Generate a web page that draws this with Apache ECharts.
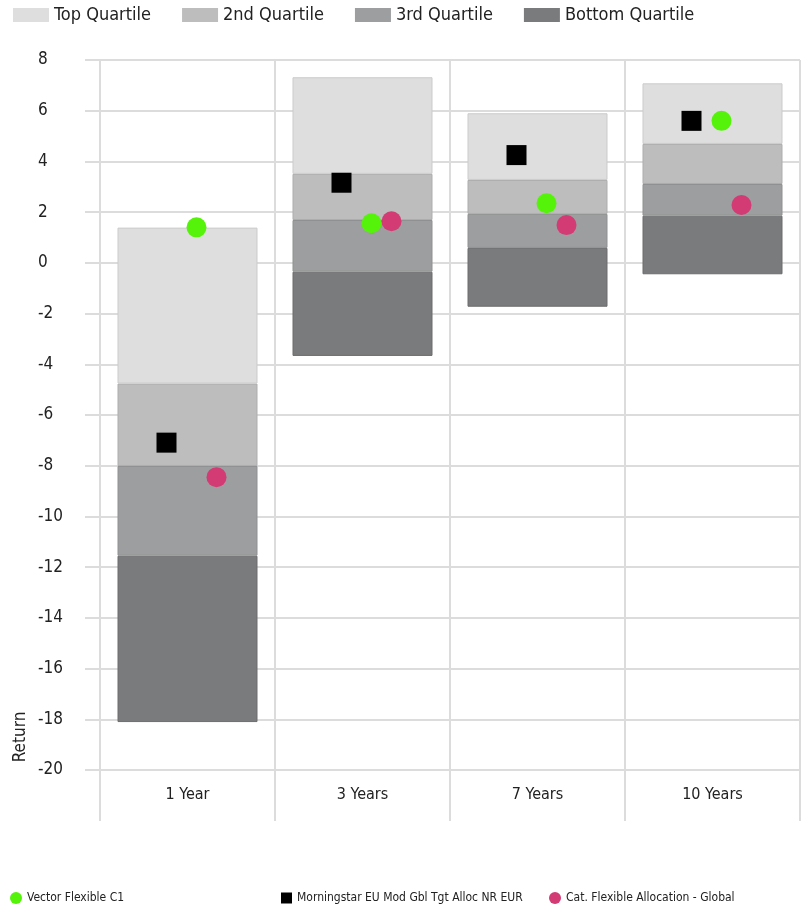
<!DOCTYPE html>
<html>
<head>
<meta charset="utf-8">
<script src="https://cdn.jsdelivr.net/npm/echarts@6/dist/echarts.min.js"></script>
<style>
html,body{margin:0;padding:0;background:#fff;}
#main{width:808px;height:905px;}
</style>
</head>
<body>
<div id="main"></div>
<script>
var categories = ['1 Year', '3 Years', '7 Years', '10 Years'];
var yTicks = [8, 6, 4, 2, 0, -2, -4, -6, -8, -10, -12, -14, -16, -18, -20];

// quartile boundaries (upper edge of each band)
var topEdge    = [1.39, 7.32, 5.90, 7.08];
var q1Lower    = [-4.76, 3.51, 3.27, 4.69];
var q2Lower    = [-8.01, 1.69, 1.93, 3.11];
var q3Lower    = [-11.55, -0.35, 0.59, 1.86];
var bottomEdge = [-18.11, -3.67, -1.73, -0.45];

var fundValues     = [1.40, 1.56, 2.35, 5.60];
var indexValues    = [-7.09, 3.16, 4.25, 5.60];
var categoryValues = [-8.45, 1.64, 1.49, 2.28];

var FONT = '"Liberation Sans Narrow", "Arial Narrow", "DejaVu Sans Condensed", "Roboto", sans-serif';

function diff(a, b) { return a.map(function (v, i) { return +(v - b[i]).toFixed(2); }); }

var chart = echarts.init(document.getElementById('main'));
var grey = '#dcdcdc';

function band(name, data, color, border) {
  return {
    name: name, type: 'bar', stack: 'q', stackStrategy: 'all',
    data: data, barWidth: 140,
    itemStyle: { color: color, borderColor: border, borderWidth: 1 },
    emphasis: { disabled: true }, z: 2
  };
}

var option = {
  animation: false,
  textStyle: { fontFamily: FONT },
  grid: { left: 100, right: 8, top: 60, bottom: 135, containLabel: false },
  legend: [
    {
      data: ['Top Quartile', '2nd Quartile', '3rd Quartile', 'Bottom Quartile'],
      left: 8, top: 1, icon: 'rect', itemWidth: 36, itemHeight: 14, itemGap: 31,
      itemStyle: { borderWidth: 0 },
      textStyle: { fontSize: 18, color: '#222', fontFamily: FONT }
    },
    {
      data: [{ name: 'Vector Flexible C1', icon: 'circle' }],
      left: 5, top: 887, itemWidth: 12, itemHeight: 12,
      textStyle: { fontSize: 12, color: '#222', fontFamily: FONT }
    },
    {
      data: [{ name: 'Morningstar EU Mod Gbl Tgt Alloc NR EUR', icon: 'rect' }],
      left: 276, top: 887, itemWidth: 11, itemHeight: 11,
      textStyle: { fontSize: 12, color: '#222', fontFamily: FONT }
    },
    {
      data: [{ name: 'Cat. Flexible Allocation - Global', icon: 'circle' }],
      left: 544, top: 887, itemWidth: 12, itemHeight: 12,
      textStyle: { fontSize: 12, color: '#222', fontFamily: FONT }
    }
  ],
  xAxis: {
    type: 'category', data: categories, boundaryGap: true,
    axisLine: { show: true, onZero: false, lineStyle: { color: grey, width: 2, opacity: 0 } },
    axisTick: { show: true, length: 51, lineStyle: { color: grey, width: 2, opacity: 1 } },
    axisLabel: { margin: 17, fontSize: 16, color: '#222', fontFamily: FONT },
    splitLine: { show: true, lineStyle: { color: grey, width: 2 } }
  },
  yAxis: {
    type: 'value', min: yTicks[yTicks.length - 1], max: yTicks[0], interval: 2,
    axisLine: { show: true, lineStyle: { color: grey, width: 2 } },
    axisTick: { show: true, length: 15, lineStyle: { color: grey, width: 2 } },
    axisLabel: { align: 'left', margin: 62, fontSize: 17, color: '#222', fontFamily: FONT },
    splitLine: { show: true, lineStyle: { color: grey, width: 2 } }
  },
  graphic: [{
    type: 'text', x: 21, y: 737, rotation: Math.PI / 2,
    style: { text: 'Return', fontSize: 17, fill: '#222', fontFamily: FONT, textAlign: 'center', textVerticalAlign: 'middle' }
  }],
  series: [
    {
      name: 'base', type: 'bar', stack: 'q', stackStrategy: 'all',
      data: bottomEdge, barWidth: 140, itemStyle: { color: 'transparent' },
      emphasis: { disabled: true }, silent: true
    },
    band('Bottom Quartile', diff(q3Lower, bottomEdge), '#7a7b7c', '#6c6d6e'),
    band('3rd Quartile', diff(q2Lower, q3Lower), '#9d9e9f', '#8f9091'),
    band('2nd Quartile', diff(q1Lower, q2Lower), '#bdbdbd', '#adadad'),
    band('Top Quartile', diff(topEdge, q1Lower), '#dedede', '#cbcbcb'),
    {
      name: 'Morningstar EU Mod Gbl Tgt Alloc NR EUR', type: 'scatter',
      data: indexValues, symbol: 'rect', symbolSize: 20, symbolOffset: [-21, 0],
      itemStyle: { color: '#000000', opacity: 1 }, z: 5
    },
    {
      name: 'Vector Flexible C1', type: 'scatter',
      data: fundValues, symbol: 'circle', symbolSize: 20, symbolOffset: [9, 0],
      itemStyle: { color: '#55f20a', opacity: 1 }, z: 6
    },
    {
      name: 'Cat. Flexible Allocation - Global', type: 'scatter',
      data: categoryValues, symbol: 'circle', symbolSize: 20, symbolOffset: [29, 0],
      itemStyle: { color: '#d33b74', opacity: 1 }, z: 5
    }
  ]
};
chart.setOption(option);
</script>
</body>
</html>
